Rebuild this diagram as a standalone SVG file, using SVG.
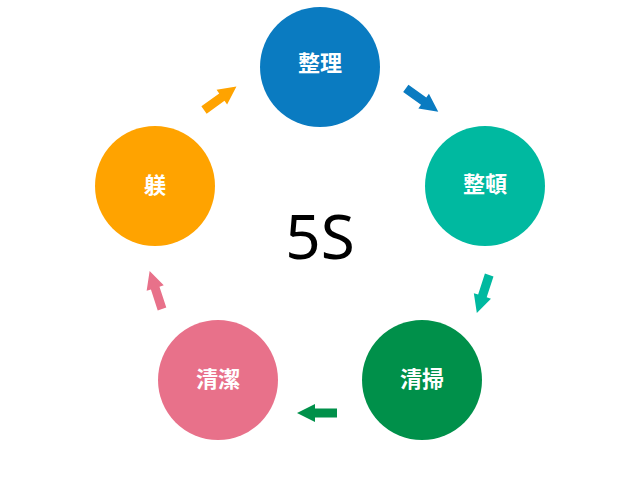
<svg xmlns="http://www.w3.org/2000/svg" width="640" height="480" viewBox="0 0 640 480">
<style>
.lbl{font-family:"Noto Sans CJK JP","Noto Sans",sans-serif;font-size:22px;font-weight:bold;fill:#fff;text-anchor:middle}
.title{font-family:"Noto Sans","Open Sans",sans-serif;font-size:62px;fill:#000;text-anchor:middle}
</style>
<defs>
<path id="arr" d="M0,-4.5 L22,-4.5 L22,-9 L40,0 L22,9 L22,4.5 L0,4.5 Z"/>
</defs>
<rect width="640" height="480" fill="#fff"/>
<g id="connectors">
<use href="#arr" fill="#0a7bc1" transform="translate(405.8,88.3) rotate(35.8)"/>
<use href="#arr" fill="#00b9a0" transform="translate(489.2,275) rotate(108)"/>
<use href="#arr" fill="#00904a" transform="translate(337,413) rotate(180)"/>
<use href="#arr" fill="#e8718a" transform="translate(162,309) rotate(252)"/>
<use href="#arr" fill="#ffa300" transform="translate(204,110) rotate(-35.8)"/>
</g>
<g id="seiri"><circle cx="320" cy="67" r="60" fill="#0a7bc1"/><text class="lbl" x="320" y="71">整理</text></g>
<g id="seiton"><circle cx="485" cy="186" r="60" fill="#00b9a0"/><text class="lbl" x="485" y="192">整頓</text></g>
<g id="seiso"><circle cx="422" cy="380" r="60" fill="#00904a"/><text class="lbl" x="422" y="387">清掃</text></g>
<g id="seiketsu"><circle cx="218" cy="380" r="60" fill="#e8718a"/><text class="lbl" x="218" y="387">清潔</text></g>
<g id="shitsuke"><circle cx="155" cy="186" r="60" fill="#ffa300"/><text class="lbl" x="155" y="193">躾</text></g>
<g id="center"><text class="title" x="320" y="259">5S</text></g>
</svg>
